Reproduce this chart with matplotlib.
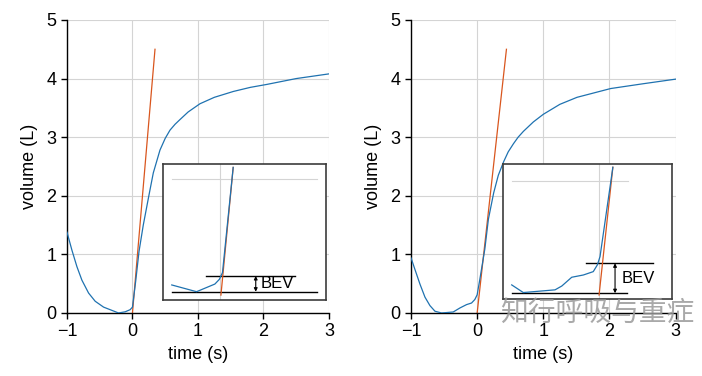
import matplotlib
matplotlib.use("Agg")
import matplotlib.pyplot as plt

plt.rcParams['font.family'] = ['Liberation Sans', 'DejaVu Sans']

# --- main traces (time s, volume L) ---
left_t = [-1, -0.924, -0.848, -0.772, -0.67, -0.569, -0.441, -0.315, -0.213, -0.112, -0.036, 0.0,
          0.05, 0.10, 0.165, 0.25, 0.318, 0.42, 0.50, 0.573, 0.65, 0.725, 0.85, 1.03, 1.25, 1.54,
          1.8, 2.05, 2.5, 3.0]
left_v = [1.38, 1.07, 0.79, 0.56, 0.34, 0.20, 0.10, 0.045, 0.0, 0.02, 0.056, 0.10,
          0.55, 1.05, 1.50, 2.0, 2.39, 2.78, 2.98, 3.12, 3.22, 3.30, 3.43, 3.57, 3.68, 3.78,
          3.85, 3.90, 4.0, 4.08]
left_fit_t = [0.0, 0.344]
left_fit_v = [0.0, 4.5]

right_t = [-1, -0.94, -0.864, -0.789, -0.714, -0.638, -0.538, -0.362, -0.26, -0.16, -0.085, -0.035, 0.0,
           0.04, 0.116, 0.17, 0.25, 0.32, 0.40, 0.47, 0.55, 0.62, 0.70, 0.85, 1.0, 1.25, 1.51, 2.02,
           2.5, 3.0]
right_v = [0.94, 0.74, 0.49, 0.27, 0.126, 0.03, 0.0, 0.017, 0.086, 0.143, 0.17, 0.23, 0.31,
           0.57, 1.09, 1.6, 2.05, 2.35, 2.58, 2.75, 2.89, 3.0, 3.10, 3.26, 3.39, 3.56, 3.68, 3.83,
           3.91, 3.99]
right_fit_t = [0.0, 0.443]
right_fit_v = [0.0, 4.5]

# --- insets (zoomed view around t = 0) ---
ins_left_t = [-0.171, -0.083, -0.018, -0.002, 0.009, 0.047]
ins_left_v = [0.030, 0.0, 0.034, 0.055, 0.085, 0.553]
ins_left_fit_t = [0.0035, 0.047]
ins_left_fit_v = [-0.015, 0.553]
ins_left_base = 0.0
ins_left_bev = 0.07

ins_right_t = [-0.361, -0.313, -0.182, -0.154, -0.113, -0.065, -0.024, -0.007, 0.004, 0.057]
ins_right_v = [0.037, 0.003, 0.015, 0.032, 0.071, 0.081, 0.096, 0.126, 0.163, 0.56]
ins_right_fit_t = [0.0, 0.057]
ins_right_fit_v = [-0.008, 0.56]
ins_right_base = 0.0
ins_right_bev = 0.133

BLUE = '#1f72b0'
RED = '#d9561e'
GRID = '#d4d4d4'

fig = plt.figure(figsize=(7.02, 3.76), dpi=100)


def main_axes(rect, t, v, ft, fv):
    ax = fig.add_axes(rect)
    ax.plot(t, v, color=BLUE, lw=0.9, zorder=3)
    ax.plot(ft, fv, color=RED, lw=0.9, zorder=2)
    ax.set_xlim(-1, 3)
    ax.set_ylim(0, 5)
    ax.set_xticks([-1, 0, 1, 2, 3])
    ax.set_xticklabels(['\u22121', '0', '1', '2', '3'])
    ax.set_yticks([0, 1, 2, 3, 4, 5])
    ax.grid(True, color=GRID, lw=0.8)
    ax.set_axisbelow(True)
    for s in ['top', 'right']:
        ax.spines[s].set_visible(False)
    for s in ['left', 'bottom']:
        ax.spines[s].set_linewidth(1.0)
    ax.tick_params(labelsize=13, length=4, width=1.0)
    ax.set_xlabel('time (s)', fontsize=13, labelpad=4)
    ax.set_ylabel('volume (L)', fontsize=13, labelpad=6)
    return ax


def inset_axes(rect, xlim, ylim, t, v, ft, fv, base, bev, grid_x1, base_x, bev_x, arrow_x, text_x):
    ax = fig.add_axes(rect, zorder=5)
    ax.set_facecolor('white')
    ax.set_xlim(*xlim)
    ax.set_ylim(*ylim)
    ax.set_xticks([])
    ax.set_yticks([])
    for s in ax.spines.values():
        s.set_color('#3c3c3c')
        s.set_linewidth(1.2)
    ax.plot([base_x[0], grid_x1], [0.5, 0.5], color=GRID, lw=0.8)
    ax.axvline(0, color=GRID, lw=0.8)
    ax.plot(base_x, [base, base], color='black', lw=1.0)
    ax.plot(bev_x, [bev, bev], color='black', lw=1.0)
    ax.plot(ft, fv, color=RED, lw=0.9)
    ax.plot(t, v, color=BLUE, lw=0.9)
    ax.annotate('', xy=(arrow_x, base), xytext=(arrow_x, bev),
                arrowprops=dict(arrowstyle='<|-|>', color='black', lw=0.8,
                                mutation_scale=5, shrinkA=0, shrinkB=0))
    ax.text(text_x, (base + bev) / 2, 'BEV', fontsize=12, va='center', ha='left')
    return ax


main_axes([0.0954, 0.1676, 0.3732, 0.7793], left_t, left_v, left_fit_t, left_fit_v)
main_axes([0.5855, 0.1676, 0.3768, 0.7793], right_t, right_v, right_fit_t, right_fit_v)

inset_axes([0.2326, 0.2021, 0.2313, 0.3617], (-0.201, 0.375), (-0.037, 0.568),
           ins_left_t, ins_left_v, ins_left_fit_t, ins_left_fit_v,
           ins_left_base, ins_left_bev, 0.344, [-0.171, 0.344], [-0.05, 0.268], 0.127, 0.145)
inset_axes([0.7172, 0.2040, 0.2396, 0.3590], (-0.395, 0.300), (-0.027, 0.573),
           ins_right_t, ins_right_v, ins_right_fit_t, ins_right_fit_v,
           ins_right_base, ins_right_bev, 0.119, [-0.359, 0.114], [-0.055, 0.222], 0.066, 0.092)

fig.text(0.712, 0.1676, '知行呼吸与重症', fontsize=20, color='#9a9a9a', alpha=0.85,
         ha='left', va='center', zorder=10,
         family=['Noto Sans CJK SC', 'DejaVu Sans'])

fig.savefig('out.png', dpi=100)
